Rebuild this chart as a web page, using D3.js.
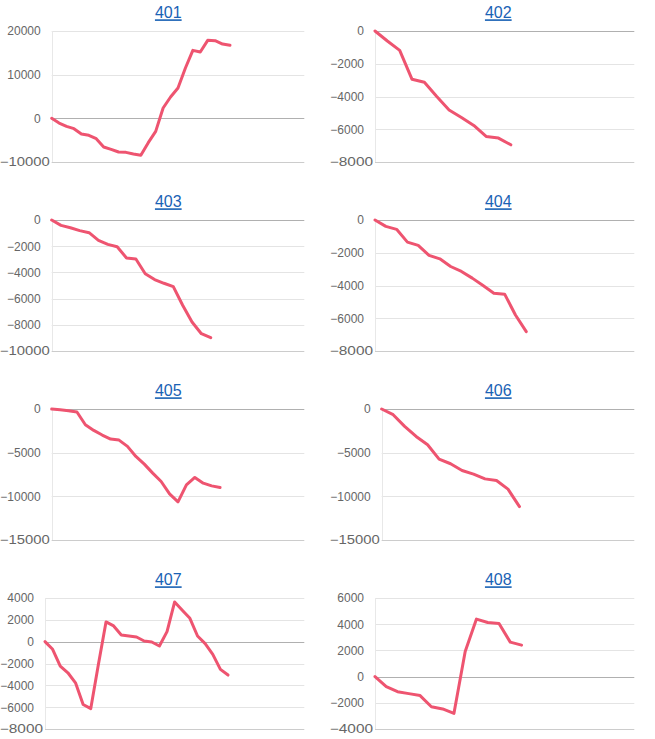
<!DOCTYPE html>
<html>
<head>
<meta charset="utf-8">
<script src="https://cdn.jsdelivr.net/npm/d3@7"></script>
<style>
  html, body { margin: 0; padding: 0; background: #fff; }
  svg { display: block; }
</style>
</head>
<body>
<svg id="chart" width="655" height="739"></svg>
<script>
// ---- data ----
const titles = ["401", "402", "403", "404", "405", "406", "407", "408"];

const s401 = [0, -1070, -1830, -2370, -3590, -3890, -4660, -6560, -7100, -7710, -7790, -8170, -8470,
              -5570, -2980, 2370, 4890, 6950, 11530, 15570, 15190, 17860, 17790, 17020, 16720];
const s402 = [0, -610, -1180, -2950, -3130, -4000, -4820, -5280, -5770, -6440, -6540, -6950];
const s403 = [0, -410, -590, -810, -970, -1550, -1860, -2040, -2900, -2980, -4100, -4550, -4830,
              -5090, -6510, -7790, -8680, -8980];
const s404 = [0, -390, -570, -1350, -1550, -2160, -2370, -2840, -3140, -3550, -4000, -4470, -4530,
              -5800, -6820];
const s405 = [0, -80, -190, -340, -1800, -2450, -2980, -3440, -3560, -4280, -5430, -6310, -7340,
              -8300, -9720, -10630, -8680, -7840, -8490, -8800, -8990];
const s406 = [0, -650, -1990, -3140, -4090, -5740, -6270, -7040, -7460, -8000, -8190, -9180, -11170];
const s407 = [0, -700, -2240, -2850, -3770, -5760, -6130, -2100, 1810, 1440, 610, 520, 430, 60, -30,
              -400, 920, 3640, 2880, 2140, 520, -180, -1160, -2540, -3060];
const s408 = [0, -770, -1150, -1300, -1450, -2300, -2470, -2810, 1910, 4390, 4130, 4060, 2630, 2400];

const series = [s401, s402, s403, s404, s405, s406, s407, s408];

const ticks401 = [-10000, 0, 10000, 20000];
const ticks402 = [-8000, -6000, -4000, -2000, 0];
const ticks403 = [-10000, -8000, -6000, -4000, -2000, 0];
const ticks404 = [-8000, -6000, -4000, -2000, 0];
const ticks405 = [-15000, -10000, -5000, 0];
const ticks406 = [-15000, -10000, -5000, 0];
const ticks407 = [-8000, -6000, -4000, -2000, 0, 2000, 4000];
const ticks408 = [-4000, -2000, 0, 2000, 4000, 6000];
const tickSets = [ticks401, ticks402, ticks403, ticks404, ticks405, ticks406, ticks407, ticks408];

// empty trailing category slots on every x axis
const trailingSlots = 10;

// ---- layout ----
const colStep = 330, rowStep = 189;
const plotRightRel = 304.3, plotTopRel = 31, plotH = 131;
const titleXRel = 168.3, titleYRel = 18.3;
const labelFont = "12px 'Liberation Sans', Arial, sans-serif";
const lineColor = "#ee5470";

const svg = d3.select("#chart");

// text measurement helper
const measurer = svg.append("text").style("font", labelFont).attr("visibility", "hidden");
function textWidth(s) { measurer.text(s); return measurer.node().getComputedTextLength(); }

series.forEach((vals, i) => {
  const col = i % 2, row = Math.floor(i / 2);
  const ox = col * colStep;
  const ticks = tickSets[i];
  const maxW = d3.max(ticks, t => textWidth(String(t)));
  const left = ox + 3.3 + maxW + 11;
  const right = ox + plotRightRel;
  const top = row * rowStep + plotTopRel;
  const bottom = top + plotH;

  const y = d3.scaleLinear().domain(d3.extent(ticks)).range([bottom, top]);
  const x = d3.scaleLinear().domain([0, vals.length - 1 + trailingSlots]).range([left, right]);

  const g = svg.append("g");

  // title
  g.append("text")
    .attr("x", ox + titleXRel).attr("y", row * rowStep + titleYRel)
    .attr("text-anchor", "middle")
    .style("font", "16px 'Liberation Sans', Arial, sans-serif")
    .style("fill", "#1a62b5")
    .style("text-decoration", "underline")
    .text(titles[i]);

  // gridlines
  const minT = d3.min(ticks);
  g.append("g").selectAll("line").data(ticks).join("line")
    .attr("x1", left).attr("x2", right)
    .attr("y1", d => Math.round(y(d)) + 0.5).attr("y2", d => Math.round(y(d)) + 0.5)
    .attr("stroke", d => d === 0 ? "#b0b0b0" : (d === minT ? "#cccccc" : "#e4e4e4"))
    .attr("stroke-width", 1);

  // left axis line
  g.append("line")
    .attr("x1", Math.round(left) + 0.5).attr("x2", Math.round(left) + 0.5)
    .attr("y1", top).attr("y2", bottom)
    .attr("stroke", "#e8e8e8");

  // tick labels (via d3 axis, restyled)
  const axis = d3.axisLeft(y).tickValues(ticks).tickSize(0).tickPadding(11).tickFormat(d3.format("d"));
  const ag = g.append("g").attr("transform", `translate(${left},0)`).call(axis);
  ag.select(".domain").remove();
  ag.selectAll("text")
    .style("font", labelFont)
    .style("fill", "#666");
  ag.selectAll(".tick").filter(d => d === minT).select("text")
    .each(function() {
      const w = this.getComputedTextLength();
      d3.select(this).attr("x", -2).attr("textLength", w + 9.5).attr("lengthAdjust", "spacingAndGlyphs");
    });

  // line
  const line = d3.line().x((d, j) => x(j)).y(d => y(d));
  g.append("path")
    .datum(vals)
    .attr("d", line)
    .attr("fill", "none")
    .attr("stroke", lineColor)
    .attr("stroke-width", 3)
    .attr("stroke-linejoin", "round")
    .attr("stroke-linecap", "round");
});
measurer.remove();
</script>
</body>
</html>
